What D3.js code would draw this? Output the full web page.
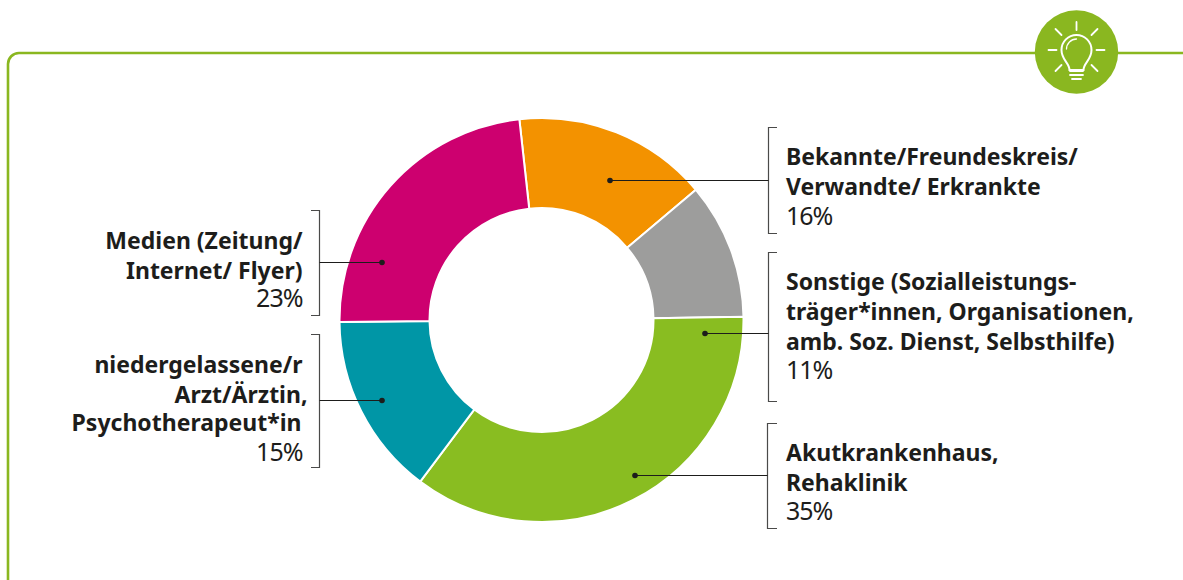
<!DOCTYPE html>
<html><head><meta charset="utf-8">
<style>html,body{margin:0;padding:0;background:#fff;overflow:hidden}svg{display:block}</style>
<script src="https://cdn.jsdelivr.net/npm/d3@7"></script></head>
<body><svg id="c" width="1183" height="580"></svg>
<script>
const categories = ["Bekannte/Freundeskreis/ Verwandte/ Erkrankte","Sonstige","Akutkrankenhaus, Rehaklinik","niedergelassene/r Arzt/Ärztin, Psychotherapeut*in","Medien (Zeitung/ Internet/ Flyer)"];
const values = [15.6, 10.9, 35.5, 14.6, 23.4];
const colors = ["#f39200","#9d9d9c","#89bd21","#0096a6","#cd006f"];
const percentLabels = ["16%","11%","35%","15%","23%"];
const nameLines = [
  ["Bekannte/Freundeskreis/","Verwandte/ Erkrankte"],
  ["Sonstige (Sozialleistungs-","träger*innen, Organisationen,","amb. Soz. Dienst, Selbsthilfe)"],
  ["Akutkrankenhaus,","Rehaklinik"],
  ["niedergelassene/r","Arzt/Ärztin,","Psychotherapeut*in"],
  ["Medien (Zeitung/","Internet/ Flyer)"]
];

const cx=541.5, cy=320, R=202, r=112;
const green="#8ab720", ink="#1d1d1b";
const svg=d3.select("#c");
const FONT="'Noto Sans',sans-serif";

// frame
svg.append("path").attr("d","M8,580V64A11,11 0 0 1 19,53H1183").attr("fill","none").attr("stroke",green).attr("stroke-width",2.6);

// donut
const pie=d3.pie().sort(null).value(d=>d).startAngle(-6.3*Math.PI/180).endAngle((360-6.3)*Math.PI/180);
const arc=d3.arc().innerRadius(r).outerRadius(R);
const g=svg.append("g").attr("transform",`translate(${cx},${cy})`);
g.selectAll("path").data(pie(values)).join("path")
  .attr("d",arc).attr("fill",(d,i)=>colors[i]).attr("stroke","#fff").attr("stroke-width",2);

// annotation layout: bracket x, tick end, top, bottom, leader y, dot x, text x, anchor, baselines
const ann=[
 {bx:768.5,tx:777,top:127.5,bot:233.5,ly:180.5,dx:610,x:786,a:"start",ys:[165,195],py:225},
 {bx:768.5,tx:777,top:252.5,bot:401.5,ly:333.5,dx:705,x:786,a:"start",ys:[290,320,350],py:379},
 {bx:767.5,tx:777,top:423.5,bot:528.5,ly:475.5,dx:635,x:786,a:"start",ys:[461,491],py:520},
 {bx:319.5,tx:311,top:334.5,bot:467.5,ly:400.5,dx:382,x:302.5,a:"end",ys:[373,403,431],py:461,off:[0,5,-1]},
 {bx:319.5,tx:311,top:210.5,bot:315.5,ly:262.5,dx:382,x:302.5,a:"end",ys:[249,279],py:307}
];
ann.forEach((n,i)=>{
  svg.append("path").attr("d",`M${n.tx},${n.top}H${n.bx}V${n.bot}H${n.tx}`).attr("fill","none").attr("stroke","#4a4a49").attr("stroke-width",1.2);
  svg.append("line").attr("x1",n.bx).attr("x2",n.dx).attr("y1",n.ly).attr("y2",n.ly).attr("stroke",ink).attr("stroke-width",1.2);
  svg.append("circle").attr("cx",n.dx).attr("cy",n.ly).attr("r",2.8).attr("fill",ink);
  nameLines[i].forEach((t,j)=>{
    svg.append("text").attr("x",n.x+(n.off?n.off[j]:0)).attr("y",n.ys[j]).attr("text-anchor",n.a)
      .attr("font-family",FONT).attr("font-weight",700).attr("font-size",23).attr("fill",ink).text(t);
  });
  svg.append("text").attr("x",n.x).attr("y",n.py).attr("text-anchor",n.a)
    .attr("font-family",FONT).attr("font-weight",400).attr("font-size",25).attr("letter-spacing",-1).attr("fill",ink).text(percentLabels[i]);
});

// bulb icon
const ic=svg.append("g").attr("transform","translate(1076.5,52)");
ic.append("circle").attr("r",41.7).attr("fill",green);
const w=ic.append("g").attr("fill","none").attr("stroke","#fff").attr("stroke-linecap","round");
w.append("path").attr("stroke-width",2).attr("d","M-7,18C-7,11 -15,8 -15,-2A15,15 0 1 1 15,-2C15,8 7,11 7,18Z");
w.append("path").attr("stroke-width",1.3).attr("d","M-10,-3A10,10 0 0 1 0,-13");
w.append("path").attr("stroke-width",1.8).attr("d","M-6.5,19H6.5M-6.5,23H6.5M-4.5,27H4.5");
w.append("path").attr("stroke-width",1.8).attr("d","M0,-30V-22M-28,-2H-20M20,-2H28M-21,-23L-15,-17M21,-23L15,-17M-21,19L-15,13M21,19L15,13");
</script></body></html>
